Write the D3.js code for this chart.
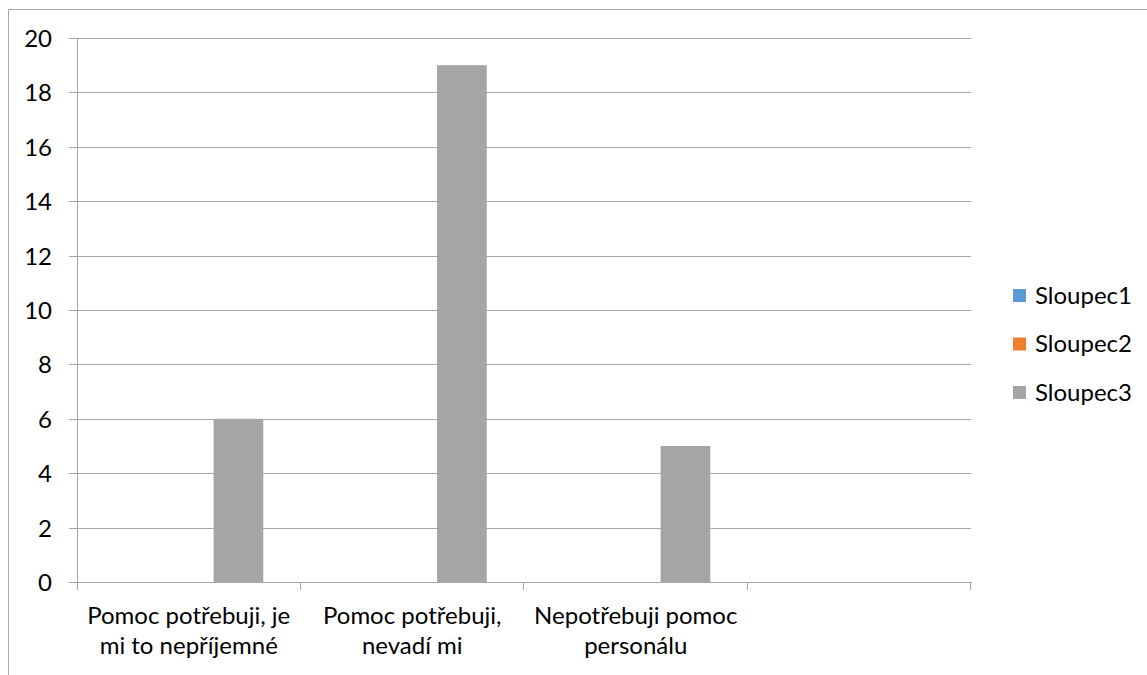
<!DOCTYPE html>
<html>
<head>
<meta charset="utf-8">
<script src="https://cdn.jsdelivr.net/npm/d3@7"></script>
<style>
  html, body { margin: 0; padding: 0; background: #fff; }
  svg { display: block; }
  text { font-family: Lato, "Open Sans", sans-serif; fill: #000; }
</style>
</head>
<body>
<svg id="chart" width="1147" height="675"></svg>
<script>
// Category labels (line breaks mark where each label wraps)
const categories = [
  "Pomoc potřebuji, je\nmi to nepříjemné",
  "Pomoc potřebuji,\nnevadí mi",
  "Nepotřebuji pomoc\npersonálu",
  ""
];
const seriesNames = ["Sloupec1", "Sloupec2", "Sloupec3"];
const sloupec1 = [null, null, null, null];
const sloupec2 = [null, null, null, null];
const sloupec3 = [6, 19, 5, null];
const seriesColors = ["#5B9BD5", "#ED7D31", "#A5A5A5"];
const yTicks = [0, 2, 4, 6, 8, 10, 12, 14, 16, 18, 20];

const seriesValues = [sloupec1, sloupec2, sloupec3];

const svg = d3.select("#chart");
const plot = { left: 77, right: 971, top: 38, bottom: 582 };
const gridColor = "#A6A6A6";
const fontSize = 24;

// Outer chart frame
svg.append("path")
  .attr("d", "M8.5,676 V9.5 H1148")
  .attr("fill", "none")
  .attr("stroke", "#A6A6A6")
  .attr("stroke-width", 1);

const x = d3.scaleBand()
  .domain(categories.map((_, i) => i))
  .range([plot.left, plot.right])
  .paddingInner(0).paddingOuter(0);

// Clustered columns: gap width 150% of a bar
const nSeries = seriesNames.length;
const barW = x.bandwidth() / (nSeries + 1.5);
const xInner = d3.scaleBand()
  .domain(seriesNames)
  .range([0.75 * barW, 0.75 * barW + nSeries * barW])
  .padding(0);

const y = d3.scaleLinear().domain([0, 20]).range([plot.bottom, plot.top]);

// Horizontal gridlines with left tick marks
const yAxis = d3.axisLeft(y).tickValues(yTicks)
  .tickSize(plot.right - plot.left + 8)
  .tickSizeOuter(0)
  .tickFormat(d3.format("d"));
const gy = svg.append("g")
  .attr("transform", `translate(${plot.right},0)`)
  .call(yAxis);
gy.select(".domain").remove();
gy.selectAll(".tick line")
  .attr("stroke", gridColor)
  .attr("stroke-width", 1)
  .attr("shape-rendering", "crispEdges");
gy.selectAll(".tick text")
  .attr("x", -(plot.right - 52))
  .style("font-size", fontSize + "px")
  .attr("dy", "0.35em");

// Vertical axis line
svg.append("line")
  .attr("x1", plot.left + 0.5).attr("x2", plot.left + 0.5)
  .attr("y1", plot.top).attr("y2", plot.bottom + 8)
  .attr("stroke", gridColor)
  .attr("shape-rendering", "crispEdges");

// Bars
seriesNames.forEach((name, si) => {
  const data = seriesValues[si]
    .map((v, i) => ({ i, v }))
    .filter(d => d.v != null);
  svg.append("g").selectAll("rect")
    .data(data)
    .join("rect")
    .attr("x", d => x(d.i) + xInner(name))
    .attr("width", xInner.bandwidth())
    .attr("y", d => y(d.v))
    .attr("height", d => y(0) - y(d.v))
    .attr("fill", seriesColors[si]);
});

// Category axis: baseline plus tick marks at band boundaries
const xAxisG = svg.append("g");
xAxisG.append("line")
  .attr("x1", plot.left).attr("x2", plot.right + 0.5)
  .attr("y1", plot.bottom + 0.5).attr("y2", plot.bottom + 0.5)
  .attr("stroke", gridColor)
  .attr("shape-rendering", "crispEdges");
const boundaries = categories.map((_, i) => x(i)).concat([plot.right]);
xAxisG.selectAll("line.tk")
  .data(boundaries.slice(1))
  .join("line")
  .attr("class", "tk")
  .attr("x1", d => Math.round(d) - 0.5).attr("x2", d => Math.round(d) - 0.5)
  .attr("y1", plot.bottom).attr("y2", plot.bottom + 8)
  .attr("stroke", gridColor)
  .attr("shape-rendering", "crispEdges");

// Category labels
categories.forEach((c, i) => {
  const cx = x(i) + x.bandwidth() / 2;
  const t = xAxisG.append("text")
    .attr("text-anchor", "middle")
    .style("font-size", fontSize + "px")
    .attr("x", cx)
    .attr("y", 624);
  c.split("\n").forEach((line, li) => {
    t.append("tspan")
      .attr("x", cx)
      .attr("dy", li === 0 ? 0 : 29.5)
      .text(line);
  });
});

// Legend
const legend = svg.append("g");
seriesNames.forEach((name, si) => {
  const cy = 295.5 + si * 48.5;
  legend.append("rect")
    .attr("x", 1013).attr("y", cy - 6.5)
    .attr("width", 13).attr("height", 13)
    .attr("fill", seriesColors[si]);
  legend.append("text")
    .attr("x", 1035).attr("y", cy)
    .attr("dy", "0.35em")
    .style("font-size", fontSize + "px")
    .text(name);
});
</script>
</body>
</html>
